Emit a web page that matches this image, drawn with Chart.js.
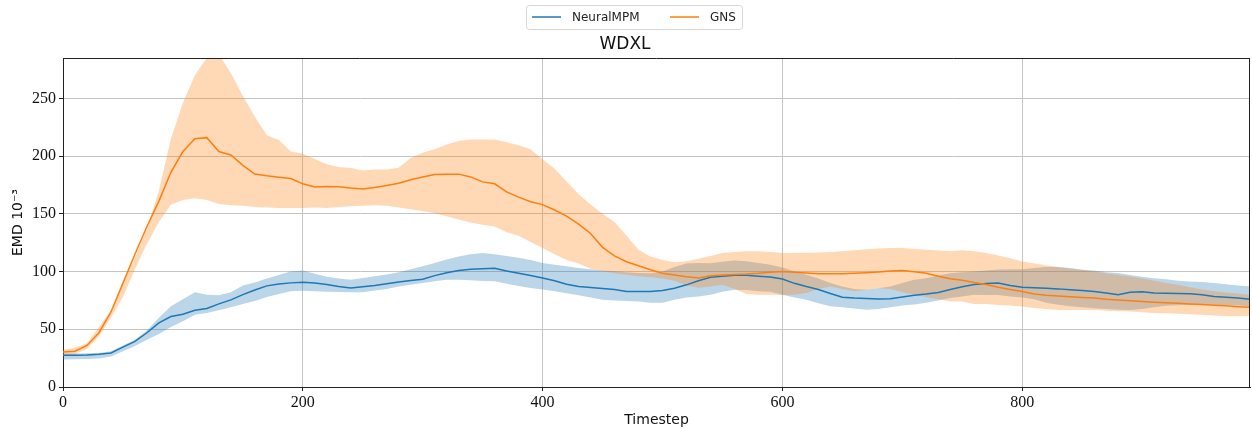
<!DOCTYPE html>
<html>
<head>
<meta charset="utf-8">
<script src="https://cdn.jsdelivr.net/npm/chart.js@4.4.1/dist/chart.umd.min.js"></script>
<style>
    html, body { margin: 0; padding: 0; background: #fff; }
    #wrap { width: 1252px; height: 429px; position: relative; }
</style>
</head>
<body>
<div id="wrap"><canvas id="emdChart"></canvas></div>
<script>
// Timesteps (x axis)
const timesteps = [
    0, 10, 20, 30, 40, 50, 60, 70, 80, 90,
    100, 110, 120, 130, 140, 150, 160, 170, 180, 190,
    200, 210, 220, 230, 240, 250, 260, 270, 280, 290,
    300, 310, 320, 330, 340, 350, 360, 370, 380, 390,
    400, 410, 420, 430, 440, 450, 460, 470, 480, 490,
    500, 510, 520, 530, 540, 550, 560, 570, 580, 590,
    600, 610, 620, 630, 640, 650, 660, 670, 680, 690,
    700, 710, 720, 730, 740, 750, 760, 770, 780, 790,
    800, 810, 820, 830, 840, 850, 860, 870, 880, 890,
    900, 910, 920, 930, 940, 950, 960, 970, 980, 990
];

// NeuralMPM: mean and band
const neuralMean = [
    27.5, 27.6, 27.8, 28.3, 29.5, 34.5, 39.5, 47, 55.5, 61,
    63, 66.5, 68, 72, 75.5, 80, 84, 87.6, 89.2, 90.2,
    90.7, 90, 88.8, 87, 85.8, 86.8, 88, 89.5, 91, 92.3,
    93.4, 96.5, 99, 101, 102, 102.5, 102.8, 100.5, 98.5, 96.5,
    94.4, 92, 89, 87, 86.2, 85.3, 84.5, 82.8, 82.8, 82.8,
    83.6, 85.6, 88.5, 92, 95, 96, 96.7, 96.7, 96, 95.2,
    93.5, 89.8, 87, 84.5, 81, 77.8, 77, 76.6, 76.2, 76.5,
    78, 79.5, 80.5, 81.8, 84.5, 86.8, 88.8, 89.6, 90, 88,
    86.4, 86, 85.5, 85, 84.2, 83.5, 82.7, 81.5, 80, 82,
    82.5, 81.5, 81.2, 81, 80.7, 80, 78.5, 77.8, 77, 76
];
const neuralUpper = [
    29, 29, 29.2, 29.5, 31, 36, 41, 49, 60, 70,
    76, 82, 80, 79.5, 82, 88, 90.5, 94, 97, 100,
    101, 98, 95.5, 94, 93, 94.4, 96, 97.5, 99.5, 102,
    104.5, 107.5, 110.5, 113, 115, 116, 115, 113.5, 112, 110,
    107.4, 106, 104.5, 103, 102, 101, 100.2, 99.5, 98.7, 98.5,
    100, 104, 107, 107.5, 107.3, 108.5, 109.6, 109, 107.5, 105.8,
    103.5, 100, 97.2, 94, 90, 87, 85, 84.2, 85.5, 87,
    90, 93, 94.3, 96.5, 98.6, 99.5, 100, 101, 101.8, 102,
    102.1, 103, 104, 104, 103, 101.6, 101, 99.5, 98.7, 97,
    95.5, 94.3, 93.3, 92, 91.4, 91, 90, 89, 88, 87
];
const neuralLower = [
    23.8, 24, 24.3, 24.6, 26.5, 31, 35.5, 41, 46, 52,
    57, 62.5, 64, 66.5, 69, 72, 74.5, 78, 80.5, 83,
    83.4, 83, 82.5, 82.2, 82, 82, 83.5, 85, 87, 88.5,
    90, 91.5, 93, 93, 92.5, 91.8, 91.5, 89.5, 87.5, 85.8,
    84.5, 83, 81.3, 79.5, 77.5, 75.5, 75, 74.5, 74, 73,
    73, 75.5, 77.5, 78.4, 80, 82.5, 84.2, 84, 83, 82.5,
    80, 77.5, 75.5, 72.5, 70, 69, 68, 67, 67.5, 69,
    70.5, 71.5, 73, 75, 77, 78.5, 80, 79.8, 79.8, 78.5,
    77.5, 76, 73, 71.2, 70, 69, 68.3, 67.5, 67, 66.8,
    67.5, 69, 70.3, 70.8, 71.2, 71.2, 71.2, 71, 70.5, 69.7
];

// GNS: mean and band
const gnsMean = [
    30.4, 31, 36, 47, 65, 90, 115, 139, 161, 186,
    204, 215, 216, 204, 201, 192, 184.5, 183, 181.8, 180.6,
    176, 173.3, 173.6, 173.5, 172.3, 171.5, 172.8, 174.5, 176.5, 179.5,
    182, 184, 184.4, 184.4, 182, 177.7, 176, 169, 164.5, 160.5,
    158, 153.3, 148, 141, 133, 121, 113.5, 108.5, 105, 101.5,
    98.5, 97, 95.5, 94.5, 96.3, 97, 97.5, 97.8, 98.5, 99.5,
    100, 99.5, 98.8, 98.2, 98, 98.2, 98.5, 99, 99.6, 100.5,
    100.9, 99.8, 98.5, 96, 93.8, 92.5, 90.5, 88.8, 86.5, 84.5,
    82.7, 80.5, 79.5, 78.8, 78.2, 77.5, 77, 76, 75.3, 74.8,
    74, 73.4, 73, 72.5, 72, 71.5, 70.8, 70.3, 69.6, 69
];
const gnsUpper = [
    32.4, 34, 38, 52, 66, 90, 112, 137, 170, 215,
    246, 270, 285, 288, 272, 252, 234, 218, 214, 204,
    202, 197.5, 193, 190.5, 189.7, 187.5, 188.4, 188.4, 190, 198.4,
    203, 206, 210, 213, 214.4, 214.4, 214.4, 212, 209.5, 206,
    197, 189, 178, 167, 158, 150, 143, 131, 119, 113,
    110, 108, 109, 111, 113.5, 116, 117, 117.5, 117.5, 117,
    116, 116, 116.4, 116.6, 117, 117.5, 118.5, 119.3, 120, 120.4,
    120.4, 119.5, 118.9, 118.2, 117.5, 118.5, 117.5, 116, 114, 111.5,
    108.8, 107, 105.5, 104, 102.5, 101.6, 100, 98.6, 97, 95.7,
    94, 92, 90, 88.5, 86.5, 84.5, 83, 81.8, 81, 79.8
];
const gnsLower = [
    27.5, 28.5, 33, 44, 60, 78, 102, 124, 143, 158,
    162, 163.6, 162, 158.5, 157.5, 157, 156, 155.5, 155, 155,
    155, 155.5, 155, 156, 156.5, 157, 157.5, 157, 155.5, 154,
    152.5, 150.5, 148, 145, 142.5, 140.5, 139, 134, 131, 125.5,
    120.4, 115, 110, 107, 102.5, 100.5, 98.5, 97.3, 96, 95,
    94, 92, 88, 86, 87, 88.5, 85, 80.5, 80, 80,
    79.8, 80, 81.5, 85, 87, 85, 83, 84, 85.5, 85,
    82, 80, 78, 76, 74, 74, 72, 72, 71, 70.5,
    69.7, 68.5, 67.5, 66.8, 66.8, 66.8, 66.8, 66, 65.6, 65.3,
    64.8, 64.2, 63.9, 63.4, 63, 62.5, 62, 61.5, 61.2, 61.5
];

const yTicks = [0, 50, 100, 150, 200, 250];
const xTicks = [0, 200, 400, 600, 800];

const BLUE = '#1f77b4';
const ORANGE = '#ff7f0e';

function toPoints(values) {
    return values.map((v, i) => ({ x: timesteps[i], y: v }));
}

// Legend box (matplotlib-like, drawn by hand) + top/right spines
const framePlugin = {
    id: 'frame',
    afterDraw(chart) {
        const ctx = chart.ctx;
        const area = chart.chartArea;
        ctx.save();
        ctx.strokeStyle = '#222';
        ctx.lineWidth = 1;
        ctx.beginPath();
        ctx.moveTo(area.left, area.top + 0.5);
        ctx.lineTo(area.right, area.top + 0.5);
        ctx.moveTo(area.right - 0.5, area.top);
        ctx.lineTo(area.right - 0.5, area.bottom);
        ctx.stroke();

        // legend frame
        ctx.strokeStyle = '#d6d6d6';
        ctx.beginPath();
        ctx.roundRect(526.5, 5.5, 216, 24, 3);
        ctx.stroke();

        const items = [
            { label: 'NeuralMPM', color: BLUE, x: 532 },
            { label: 'GNS', color: ORANGE, x: 670 }
        ];
        ctx.font = '12px "DejaVu Sans"';
        ctx.textBaseline = 'middle';
        ctx.textAlign = 'left';
        items.forEach(item => {
            ctx.strokeStyle = item.color;
            ctx.lineWidth = 1.5;
            ctx.beginPath();
            ctx.moveTo(item.x, 17);
            ctx.lineTo(item.x + 29, 17);
            ctx.stroke();
            ctx.fillStyle = '#222';
            ctx.fillText(item.label, item.x + 40, 17.5);
        });
        ctx.restore();
    }
};

const lineDefaults = { pointRadius: 0, tension: 0, borderWidth: 1.5 };

new Chart(document.getElementById('emdChart'), {
    type: 'line',
    data: {
        datasets: [
            { ...lineDefaults, label: 'NeuralMPM', data: toPoints(neuralMean), borderColor: BLUE, backgroundColor: BLUE, fill: false, order: 1 },
            { ...lineDefaults, label: 'GNS', data: toPoints(gnsMean), borderColor: ORANGE, backgroundColor: ORANGE, fill: false, order: 0 },
            { ...lineDefaults, label: 'nlow', data: toPoints(neuralLower), borderWidth: 0, borderColor: 'transparent', fill: false, order: 3 },
            { ...lineDefaults, label: 'nup', data: toPoints(neuralUpper), borderWidth: 0, borderColor: 'transparent', backgroundColor: 'rgba(31, 119, 180, 0.3)', fill: '-1', order: 3 },
            { ...lineDefaults, label: 'glow', data: toPoints(gnsLower), borderWidth: 0, borderColor: 'transparent', fill: false, order: 2 },
            { ...lineDefaults, label: 'gup', data: toPoints(gnsUpper), borderWidth: 0, borderColor: 'transparent', backgroundColor: 'rgba(255, 127, 14, 0.3)', fill: '-1', order: 2 }
        ]
    },
    options: {
        responsive: true,
        maintainAspectRatio: false,
        animation: false,
        layout: { padding: { left: 0, right: 2, top: 30, bottom: 0 } },
        plugins: {
            legend: { display: false },
            title: {
                display: true,
                text: 'WDXL',
                color: '#111',
                font: { family: 'DejaVu Sans', size: 17, weight: 'normal' },
                padding: { top: 4, bottom: 3.6 }
            },
            tooltip: { enabled: false }
        },
        scales: {
            x: {
                type: 'linear',
                min: 0,
                max: 990,
                afterBuildTicks: axis => { axis.ticks = xTicks.map(v => ({ value: v })); },
                afterFit: axis => { axis.height = 42; },
                grid: { color: '#c4c4c4', lineWidth: 1, tickLength: 4, tickColor: '#222' },
                border: { color: '#222', width: 1 },
                ticks: { color: '#111', font: { family: 'Liberation Serif', size: 16 }, padding: 2, maxRotation: 0 },
                title: { display: true, text: 'Timestep', color: '#111', font: { family: 'DejaVu Sans', size: 14 }, padding: { top: 0, bottom: 0 } }
            },
            y: {
                min: 0,
                max: 285,
                afterBuildTicks: axis => { axis.ticks = yTicks.map(v => ({ value: v })); },
                afterFit: axis => { axis.width = 63; },
                grid: { color: '#c4c4c4', lineWidth: 1, tickLength: 4, tickColor: '#222' },
                border: { color: '#222', width: 1 },
                ticks: { color: '#111', font: { family: 'Liberation Serif', size: 16 }, padding: 3 },
                title: { display: true, text: 'EMD 10\u207B\u00B3', color: '#111', font: { family: 'DejaVu Sans', size: 14 }, padding: { top: 10, bottom: 2 } }
            }
        }
    },
    plugins: [framePlugin]
});
</script>
</body>
</html>
